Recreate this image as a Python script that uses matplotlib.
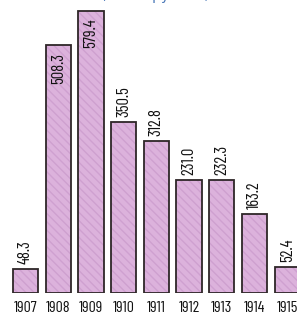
import matplotlib
matplotlib.use("Agg")
import matplotlib.pyplot as plt

years = ["1907", "1908", "1909", "1910", "1911", "1912", "1913", "1914", "1915"]
values = [48.3, 508.3, 579.4, 350.5, 312.8, 231.0, 232.3, 163.2, 52.4]
labels = ["48.3", "508.3", "579.4", "350.5", "312.8", "231.0", "232.3", "163.2", "52.4"]
inside = [False, True, True, False, False, False, False, False, False]
subtitle = "(тысяч рублей)"

plt.rcParams['font.family'] = ['Barlow Condensed', 'DejaVu Sans']

W, H = 297, 316
fig = plt.figure(figsize=(W / 100, H / 100), dpi=100)
fig.patch.set_facecolor("white")
ax = fig.add_axes([0, 23 / H, 1, 293 / H])
ax.set_facecolor("white")

x = list(range(len(years)))
fill = "#dcb2dc"
ax.bar(x, values, width=0.77, color=fill, edgecolor="#cfa0d0", linewidth=0,
       hatch="\\\\\\\\")
ax.bar(x, values, width=0.77, fill=False, edgecolor="#2e2628", linewidth=1.3)

ax.set_xlim(-0.78, 8.30)
ax.set_ylim(0, 601.6)

px = 601.6 / 293.0
for xi, v, lab, ins in zip(x, values, labels, inside):
    if ins:
        ax.text(xi, v - 8 * px, lab, rotation=90, ha="center", va="top",
                fontsize=12, color="#111111")
    else:
        ax.text(xi, v + 5 * px, lab, rotation=90, ha="center", va="bottom",
                fontsize=12, color="#111111")

ax.set_xticks(x)
ax.set_xticklabels(years, fontsize=11.5, color="#111111")
ax.tick_params(axis="x", length=0, pad=6)
ax.set_yticks([])
for s in ax.spines.values():
    s.set_visible(False)

fig.text(155 / W, 1 + 0.0 / H, subtitle, ha="center", va="baseline",
         fontsize=10, color="#4a78b8")

fig.savefig("out.png", dpi=100, facecolor="white")
